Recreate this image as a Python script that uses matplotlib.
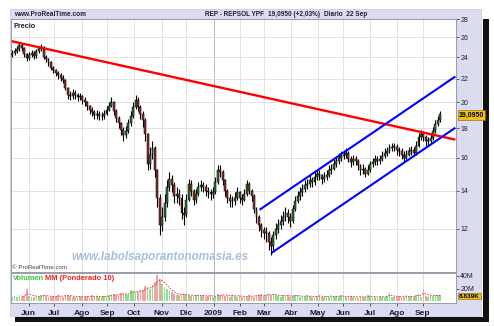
import matplotlib
matplotlib.use('Agg')
import matplotlib.pyplot as plt
import numpy as np
import pandas as pd
from matplotlib.patches import Rectangle

plt.rcParams['font.family'] = ['Liberation Sans', 'DejaVu Sans']

W, H = 494, 326

# ---------------- data ----------------
start_date = '2008-05-13'
end_date = '2009-09-22'
bar_step = 2          # trading days per drawn candle
first_open = 24.2

closes = [24.4, 24.6, 24.8, 25.2, 24.9, 24.3, 23.9, 24.2, 24.4, 24.1,
          24.6, 24.9, 25.0, 24.0, 23.8, 23.5, 23.0, 22.8, 22.5, 22.3,
          22.1, 21.9, 21.2, 20.6, 20.5, 20.8, 20.6, 20.4, 20.5, 20.2,
          20.0, 19.7, 19.4, 19.2, 19.0, 19.1, 18.9, 18.9, 19.1, 19.4,
          19.7, 20.0, 19.3, 18.8, 18.4, 17.9, 17.5, 17.8, 18.4, 18.9,
          19.6, 20.2, 19.6, 19.1, 18.6, 17.6, 15.6, 16.2, 16.6, 15.2,
          13.6, 12.2, 12.6, 13.3, 14.2, 14.7, 14.3, 13.7, 13.8, 13.6,
          12.8, 12.7, 13.5, 14.4, 14.0, 13.5, 13.8, 14.2, 14.3, 14.2,
          14.0, 13.9, 13.8, 13.9, 14.5, 15.2, 15.1, 14.6, 14.0, 13.6,
          13.4, 13.4, 13.6, 13.9, 13.6, 13.5, 13.8, 14.4, 14.0, 13.7,
          13.0, 12.6, 12.2, 11.95, 11.8, 11.8, 11.4, 11.2, 11.7, 12.0,
          12.2, 12.4, 12.6, 12.8, 12.6, 12.4, 13.0, 13.4, 13.7, 13.9,
          14.1, 14.3, 14.4, 14.6, 14.5, 14.8, 15.0, 14.9, 14.7, 14.8,
          14.9, 15.2, 15.3, 15.6, 15.8, 16.0, 16.1, 16.2, 16.3, 15.9,
          15.7, 15.9, 15.8, 15.5, 15.2, 15.3, 15.0, 15.2, 15.6, 15.7,
          15.9, 15.8, 15.9, 16.1, 16.3, 16.4, 16.6, 16.7, 16.7, 16.5,
          16.4, 16.2, 16.0, 16.2, 16.4, 16.5, 16.3, 16.8, 17.4, 17.6,
          17.4, 17.1, 17.1, 17.3, 17.8, 18.3, 18.6, 19.095]

highs = [24.7, 24.9, 25.1, 25.4, 25.4, 25.0, 24.4, 24.5, 24.7, 24.6,
         24.8, 25.1, 25.3, 25.1, 24.2, 23.9, 23.6, 23.2, 22.9, 22.7,
         22.5, 22.3, 22.0, 21.3, 20.9, 21.1, 21.0, 20.8, 20.8, 20.6,
         20.4, 20.1, 19.8, 19.6, 19.4, 19.4, 19.3, 19.2, 19.4, 19.7,
         20.0, 20.4, 20.1, 19.5, 18.9, 18.5, 18.1, 18.2, 18.7, 19.3,
         20.0, 20.6, 20.4, 19.8, 19.3, 18.8, 17.7, 16.7, 17.1, 16.8,
         15.3, 13.8, 13.1, 13.8, 14.6, 15.1, 14.9, 14.5, 14.2, 14.1,
         13.8, 13.1, 13.8, 14.7, 14.6, 14.1, 14.1, 14.5, 14.6, 14.5,
         14.4, 14.2, 14.1, 14.2, 14.8, 15.5, 15.5, 15.2, 14.7, 14.1,
         13.8, 13.7, 13.9, 14.2, 14.0, 13.8, 14.1, 14.6, 14.5, 14.1,
         13.8, 13.1, 12.7, 12.3, 12.1, 12.1, 11.9, 11.6, 11.9, 12.3,
         12.5, 12.7, 12.9, 13.1, 13.0, 12.8, 13.2, 13.7, 14.0, 14.2,
         14.4, 14.6, 14.7, 14.9, 14.8, 15.1, 15.3, 15.2, 15.0, 15.1,
         15.2, 15.5, 15.6, 15.9, 16.1, 16.3, 16.4, 16.5, 16.6, 16.4,
         16.1, 16.2, 16.1, 15.9, 15.6, 15.6, 15.4, 15.5, 15.8, 16.0,
         16.2, 16.1, 16.2, 16.4, 16.6, 16.7, 16.9, 17.0, 17.0, 16.9,
         16.7, 16.6, 16.4, 16.5, 16.7, 16.8, 16.7, 17.1, 17.7, 17.9,
         17.8, 17.5, 17.4, 17.6, 18.1, 18.6, 18.9, 19.3]

lows = [24.0, 24.2, 24.4, 24.6, 24.6, 24.0, 23.6, 23.7, 24.0, 23.8,
        23.9, 24.4, 24.6, 23.8, 23.5, 23.2, 22.8, 22.5, 22.2, 22.0,
        21.8, 21.6, 21.0, 20.3, 20.2, 20.3, 20.3, 20.1, 20.2, 19.9,
        19.7, 19.4, 19.1, 18.9, 18.7, 18.7, 18.6, 18.6, 18.7, 19.0,
        19.3, 19.6, 19.0, 18.5, 18.0, 17.5, 17.1, 17.3, 17.7, 18.2,
        18.8, 19.5, 19.3, 18.7, 18.1, 17.1, 15.2, 15.3, 15.9, 14.8,
        13.1, 11.7, 11.9, 12.4, 13.1, 14.0, 13.9, 13.3, 13.3, 13.2,
        12.5, 12.2, 12.6, 13.4, 13.7, 13.2, 13.3, 13.7, 14.0, 13.9,
        13.7, 13.6, 13.5, 13.6, 13.8, 14.4, 14.8, 14.3, 13.7, 13.3,
        13.1, 13.1, 13.2, 13.5, 13.3, 13.2, 13.4, 13.7, 13.8, 13.4,
        12.8, 12.3, 11.9, 11.6, 11.5, 11.4, 11.0, 10.8, 11.0, 11.5,
        11.8, 12.0, 12.2, 12.4, 12.3, 12.1, 12.3, 12.9, 13.3, 13.5,
        13.7, 13.9, 14.1, 14.2, 14.2, 14.3, 14.6, 14.6, 14.4, 14.5,
        14.6, 14.8, 15.0, 15.2, 15.4, 15.6, 15.8, 15.9, 16.0, 15.7,
        15.4, 15.5, 15.5, 15.2, 14.9, 15.0, 14.8, 14.9, 15.1, 15.4,
        15.5, 15.5, 15.6, 15.8, 16.0, 16.1, 16.3, 16.4, 16.4, 16.2,
        16.1, 15.9, 15.8, 15.9, 16.1, 16.2, 16.1, 16.2, 16.7, 17.2,
        17.1, 16.8, 16.8, 17.0, 17.2, 17.7, 18.2, 18.5]

volumes = [7, 8, 6, 9, 7, 8, 19, 8, 7, 6,
           8, 7, 9, 10, 8, 7, 6, 8, 7, 9,
           8, 7, 10, 9, 8, 7, 6, 7, 8, 6,
           7, 8, 6, 9, 7, 8, 6, 7, 8, 7,
           9, 10, 12, 9, 10, 13, 12, 11, 10, 17,
           16, 15, 14, 17, 18, 24, 22, 20, 25, 30,
           41, 36, 28, 22, 19, 16, 14, 12, 10, 9,
           12, 11, 10, 9, 8, 8, 10, 9, 8, 9,
           7, 8, 10, 7, 6, 11, 9, 12, 8, 9,
           7, 10, 8, 7, 9, 6, 8, 7, 9, 8,
           7, 10, 9, 11, 8, 9, 12, 10, 11, 9,
           8, 7, 10, 8, 9, 7, 8, 10, 9, 6,
           8, 7, 9, 8, 6, 7, 8, 9, 7, 6,
           8, 7, 9, 6, 8, 7, 9, 8, 6, 7,
           8, 6, 7, 5, 8, 6, 7, 9, 8, 6,
           7, 5, 8, 7, 6, 8, 13, 7, 6, 7,
           8, 6, 7, 9, 6, 8, 7, 9, 12, 7,
           19, 8, 7, 9, 8, 10, 9, 9]   # millions of shares

month_labels = ['Jun', 'Jul', 'Ago', 'Sep', 'Oct', 'Nov', 'Dic', '2009',
                'Feb', 'Mar', 'Abr', 'May', 'Jun', 'Jul', 'Ago', 'Sep']
price_ticks = [12, 14, 16, 18, 20, 22, 24, 26, 28]
vol_ticks = [20, 40]
vol_tick_labels = ['20M', '40M']

# trend lines (trading-day index, price)
red_x = [0, 367]
red_y = [25.6, 17.2]
blue_up_x = [205, 367]
blue_up_y = [12.96, 22.2]
blue_lo_x = [215, 367]
blue_lo_y = [10.89, 18.05]

last_price_label = '19,0950'
last_vol_label = '8.839K'

# ---------------- layout helpers ----------------
def fx(px):
    return px / W

def fy(py):
    return 1 - py / H

fig = plt.figure(figsize=(W / 100, H / 100), dpi=100)
fig.patch.set_facecolor('white')

LAV = '#dcdcf0'
# drop shadow and frame
fig.patches.append(Rectangle((fx(15), fy(322)), fx(489) - fx(15), fy(19) - fy(322),
                             transform=fig.transFigure, facecolor='#111111',
                             edgecolor='none', zorder=-10))
fig.patches.append(Rectangle((fx(8), fy(317)), fx(483) - fx(8), fy(7) - fy(317),
                             transform=fig.transFigure, facecolor='white',
                             edgecolor='none', zorder=-9))
fig.patches.append(Rectangle((fx(10), fy(315.5)), fx(481) - fx(10), fy(9) - fy(315.5),
                             transform=fig.transFigure, facecolor=LAV,
                             edgecolor='#c8c8e0', linewidth=0.5, zorder=-8))

days = pd.bdate_range(start_date, end_date)
n_days = len(days)
month_pos = [i for i in range(1, n_days) if days[i].month != days[i - 1].month]
xlim = (-0.5, n_days - 0.5 + 12)

# ---------------- price axes ----------------
ax = fig.add_axes([fx(11), fy(272), fx(456) - fx(11), fy(19) - fy(272)])
ax.set_facecolor('white')
ax.set_yscale('log')
ax.set_ylim(10.08, 28.0)
ax.set_xlim(*xlim)

for i, mp in enumerate(month_pos):
    col = '#b8b8b8' if month_labels[i] == '2009' else '#e2e2e2'
    ax.axvline(mp, color=col, lw=0.7, zorder=0)
for t in price_ticks:
    ax.axhline(t, color='#e2e2e2', lw=0.7, zorder=0)

n = len(closes)
xs = np.arange(n) * bar_step + 0.5
opens = [first_open] + closes[:-1]
up = [c >= o for o, c in zip(opens, closes)]
ax.vlines(xs, lows, highs, color='black', lw=0.8, zorder=3)
body_bottom = [min(o, c) for o, c in zip(opens, closes)]
body_h = [max(abs(c - o), 0.05) for o, c in zip(opens, closes)]
ax.bar(xs, body_h, bottom=body_bottom, width=1.6,
       color=['#2f6e2f' if u else '#8c2f2f' for u in up],
       edgecolor='black', linewidth=0.35, zorder=4)

ax.plot(red_x, red_y, color='#ff0000', lw=1.7, zorder=5, solid_capstyle='butt')
ax.plot(blue_up_x, blue_up_y, color='#0000ff', lw=1.5, zorder=5, solid_capstyle='butt')
ax.plot(blue_lo_x, blue_lo_y, color='#0000ff', lw=1.5, zorder=5, solid_capstyle='butt')

ax.yaxis.tick_right()
ax.set_yticks(price_ticks)
ax.set_yticklabels([str(t) for t in price_ticks])
ax.yaxis.set_minor_locator(matplotlib.ticker.NullLocator())
ax.yaxis.set_minor_formatter(matplotlib.ticker.NullFormatter())
ax.tick_params(axis='y', which='major', direction='out', length=2, width=0.5,
               labelsize=5, pad=1, colors='#202030')
ax.set_xticks([])
for s in ax.spines.values():
    s.set_color('#9a9aaa')
    s.set_linewidth(0.7)

ax.text(0.005, 0.985, 'Precio', transform=ax.transAxes, fontsize=5.2,
        fontweight='bold', color='#202030', va='top', ha='left')
ax.text(0.003, 0.008, '\u00a9 ProRealTime.com', transform=ax.transAxes,
        fontsize=4.4, color='#404050', va='bottom', ha='left')
fig.text(fx(160), fy(257), 'www.labolsaporantonomasia.es',
         fontsize=8.4, style='italic', fontweight='bold', color='#a9bfdc',
         va='center', ha='center', zorder=2)

# last price box
fig.text(fx(459), fy(115), last_price_label, fontsize=5, fontweight='bold',
         color='black', va='center', ha='left',
         bbox=dict(boxstyle='square,pad=0.15', facecolor='#f2c21a',
                   edgecolor='#806000', linewidth=0.4))

# ---------------- volume axes ----------------
axv = fig.add_axes([fx(11), fy(303), fx(456) - fx(11), fy(273) - fy(303)])
axv.set_facecolor('white')
axv.set_xlim(*xlim)
axv.set_ylim(-3.2, 44.8)
for i, mp in enumerate(month_pos):
    col = '#b8b8b8' if month_labels[i] == '2009' else '#e2e2e2'
    axv.axvline(mp, color=col, lw=0.7, zorder=0)
vcols = ['#8ee08e' if u else '#f2a2a2' for u in up]
axv.bar(xs, volumes, width=1.4, color=vcols, edgecolor='none', zorder=2)

# weighted moving average of volume (Ponderado 10 days ~ 5 bars)
w = np.arange(1, 6)
vol_arr = np.array(volumes, dtype=float)
mm = [np.nan] * 4 + [np.dot(vol_arr[k - 4:k + 1], w) / w.sum() for k in range(4, n)]
axv.plot(xs, mm, color='#e03030', lw=0.6, ls=(0, (2, 1.5)), zorder=3)

axv.yaxis.tick_right()
axv.set_yticks(vol_ticks)
axv.set_yticklabels(vol_tick_labels)
axv.tick_params(axis='y', direction='out', length=2, width=0.5, labelsize=5,
                pad=1, colors='#202030')
axv.set_xticks(month_pos)
axv.set_xticklabels(month_labels)
axv.tick_params(axis='x', direction='out', length=2, width=0.5, labelsize=6,
                pad=3, colors='#1a1a40')
for lab in axv.get_xticklabels():
    lab.set_fontweight('bold')
for s in axv.spines.values():
    s.set_color('#9a9aaa')
    s.set_linewidth(0.7)

fig.text(fx(13), fy(278), 'Volumen', fontsize=5.4,
         fontweight='bold', color='#33cc33', va='center', ha='left')
fig.text(fx(45), fy(278), 'MM (Ponderado 10)', fontsize=5.4,
         fontweight='bold', color='#ee2222', va='center', ha='left')

fig.text(fx(459), fy(296), last_vol_label, fontsize=4.6, fontweight='bold',
         color='black', va='center', ha='left',
         bbox=dict(boxstyle='square,pad=0.15', facecolor='#f2c21a',
                   edgecolor='#806000', linewidth=0.4))

# ---------------- header ----------------
hdr = dict(fontsize=4.7, fontweight='bold', color='#202040', va='center', ha='left')
fig.text(fx(14), fy(14.5), 'www.ProRealTime.com', **hdr)
fig.text(fx(205), fy(14.5), 'REP - REPSOL YPF', **hdr)
fig.text(fx(268), fy(14.5), '19,0950 (+2,03%)', **hdr)
fig.text(fx(324), fy(14.5), 'Diario  22 Sep', **hdr)

fig.savefig('out.png', dpi=100)
